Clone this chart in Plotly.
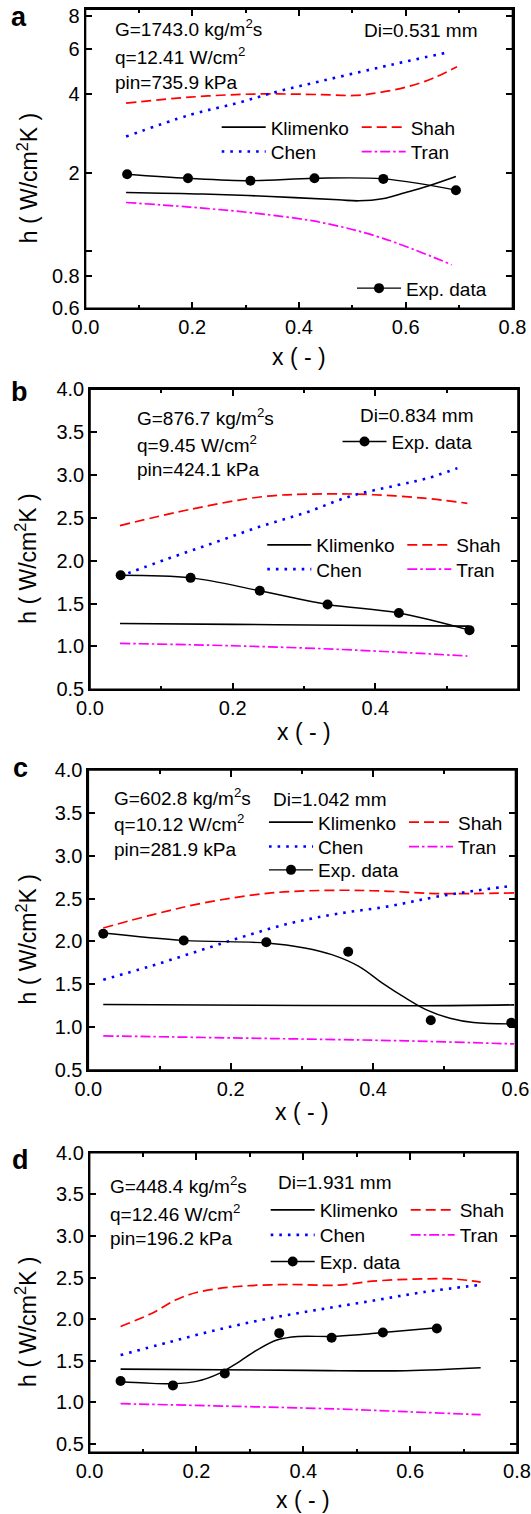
import numpy as np
import plotly.graph_objects as go

FONT = "Liberation Sans, Arial, Helvetica, sans-serif"
W, H = 531, 1514

# ---------------- data ----------------
# panel a  (log y)
a_exp_x = [0.078, 0.192, 0.309, 0.429, 0.558, 0.694]
a_exp_y = [1.97, 1.90, 1.86, 1.90, 1.89, 1.71]
a_kli_x = [0.076, 0.220, 0.347, 0.474, 0.512, 0.556, 0.600, 0.639, 0.694]
a_kli_y = [1.675, 1.652, 1.617, 1.570, 1.556, 1.584, 1.675, 1.766, 1.930]
a_shah_x = [0.076, 0.195, 0.315, 0.442, 0.505, 0.550, 0.600, 0.651, 0.696]
a_shah_y = [3.70, 3.90, 4.01, 3.99, 3.96, 4.06, 4.26, 4.61, 5.11]
a_chen_x = [0.076, 0.195, 0.284, 0.360, 0.442, 0.537, 0.600, 0.680]
a_chen_y = [2.75, 3.33, 3.70, 4.10, 4.50, 5.00, 5.35, 5.81]
a_tran_x = [0.076, 0.195, 0.315, 0.442, 0.556, 0.686]
a_tran_y = [1.533, 1.472, 1.396, 1.284, 1.118, 0.883]

# panel b
b_exp_x = [0.043, 0.141, 0.238, 0.333, 0.433, 0.532]
b_exp_y = [1.83, 1.80, 1.65, 1.49, 1.39, 1.19]
b_kli_x = [0.042, 0.200, 0.350, 0.531]
b_kli_y = [1.268, 1.258, 1.248, 1.237]
b_shah_x = [0.042, 0.141, 0.245, 0.330, 0.397, 0.468, 0.529]
b_shah_y = [2.41, 2.60, 2.75, 2.78, 2.77, 2.73, 2.67]
b_chen_x = [0.042, 0.108, 0.174, 0.239, 0.302, 0.364, 0.430, 0.472, 0.515]
b_chen_y = [1.82, 2.02, 2.21, 2.40, 2.56, 2.75, 2.88, 2.96, 3.08]
b_tran_x = [0.042, 0.141, 0.245, 0.349, 0.444, 0.529]
b_tran_y = [1.035, 1.020, 0.997, 0.966, 0.927, 0.888]

# panel c
c_exp_x = [0.021, 0.134, 0.250, 0.365, 0.481, 0.594]
c_exp_y = [2.09, 2.01, 1.99, 1.88, 1.08, 1.05]
c_fit_x = [0.021, 0.134, 0.250, 0.304, 0.342, 0.380, 0.413, 0.446, 0.475, 0.508, 0.541, 0.598]
c_fit_y = [2.098, 2.012, 1.981, 1.923, 1.845, 1.708, 1.514, 1.338, 1.202, 1.104, 1.054, 1.038]
c_kli_x = [0.021, 0.304, 0.470, 0.598]
c_kli_y = [1.264, 1.253, 1.249, 1.260]
c_shah_x = [0.021, 0.091, 0.162, 0.257, 0.351, 0.422, 0.493, 0.598]
c_shah_y = [2.157, 2.313, 2.449, 2.566, 2.597, 2.585, 2.558, 2.566]
c_chen_x = [0.021, 0.086, 0.153, 0.219, 0.285, 0.351, 0.422, 0.493, 0.579, 0.593]
c_chen_y = [1.553, 1.708, 1.884, 2.059, 2.215, 2.324, 2.410, 2.527, 2.632, 2.644]
c_tran_x = [0.021, 0.257, 0.446, 0.598]
c_tran_y = [0.898, 0.867, 0.840, 0.804]

# panel d
d_exp_x = [0.058, 0.156, 0.253, 0.355, 0.453, 0.549, 0.650]
d_exp_y = [1.256, 1.204, 1.348, 1.832, 1.776, 1.840, 1.888]
d_fit_x = [0.058, 0.105, 0.156, 0.200, 0.244, 0.276, 0.314, 0.352, 0.390, 0.453, 0.504, 0.549, 0.650]
d_fit_y = [1.248, 1.232, 1.224, 1.252, 1.352, 1.472, 1.632, 1.752, 1.792, 1.792, 1.812, 1.840, 1.896]
d_kli_x = [0.058, 0.402, 0.592, 0.732]
d_kli_y = [1.400, 1.384, 1.380, 1.416]
d_shah_x = [0.058, 0.117, 0.162, 0.200, 0.276, 0.371, 0.466, 0.529, 0.624, 0.687, 0.732]
d_shah_y = [1.912, 2.072, 2.232, 2.320, 2.392, 2.416, 2.408, 2.456, 2.484, 2.480, 2.444]
d_chen_x = [0.058, 0.149, 0.244, 0.339, 0.434, 0.529, 0.624, 0.732]
d_chen_y = [1.568, 1.724, 1.880, 2.012, 2.120, 2.220, 2.324, 2.412]
d_tran_x = [0.058, 0.276, 0.466, 0.592, 0.732]
d_tran_y = [0.984, 0.952, 0.920, 0.888, 0.852]

# condition labels
panel_letters = ["a", "b", "c", "d"]
G_text = ["G=1743.0 kg/m<sup>2</sup>s", "G=876.7 kg/m<sup>2</sup>s",
          "G=602.8 kg/m<sup>2</sup>s", "G=448.4 kg/m<sup>2</sup>s"]
q_text = ["q=12.41 W/cm<sup>2</sup>", "q=9.45 W/cm<sup>2</sup>",
          "q=10.12 W/cm<sup>2</sup>", "q=12.46 W/cm<sup>2</sup>"]
p_text = ["pin=735.9 kPa", "pin=424.1 kPa", "pin=281.9 kPa", "pin=196.2 kPa"]
D_text = ["Di=0.531 mm", "Di=0.834 mm", "Di=1.042 mm", "Di=1.931 mm"]
x_titles = "x ( - )"
y_titles = "h ( W/cm<sup>2</sup>K )"
log_tickvals = [0.6, 0.8, 1, 2, 4, 6, 8]
log_ticktext = ["0.6", "0.8", "", "2", "4", "6", "8"]

# ---------------- layout geometry (pixels) ----------------
frames = [  # x0, x1, ytop, ybottom
    (85.5, 512.5, 9.3, 308.3),
    (90.0, 518.0, 389.3, 689.3),
    (88.3, 515.5, 770.0, 1070.0),
    (89.6, 517.0, 1152.7, 1452.3),
]
xranges = [[0, 0.8], [0, 0.6], [0, 0.6], [0, 0.8]]
yranges = [[np.log10(0.6), np.log10(8.5)], [0.5, 4.0], [0.5, 4.0], [0.4, 4.0]]
text_pos = [  # G-x, G-y, q-y, p-y, D-x, D-y
    (113.4, 28.3, 56.0, 82.7, 362.0, 30.0),
    (135.4, 416.7, 444.0, 470.0, 358.0, 415.0),
    (111.7, 796.7, 822.7, 849.3, 270.7, 799.3),
    (108.3, 1185.0, 1212.7, 1238.3, 275.8, 1182.7),
]
legend_pos = [  # row1 line start x, row1 y, row2 y, exp line start x, exp y
    (221.7, 127.3, 151.7, 357.0, 288.3),
    (267.3, 545.0, 569.3, 342.5, 441.7),
    (269.0, 822.3, 846.7, 269.0, 870.0),
    (270.7, 1210.0, 1235.0, 270.7, 1261.7),
]
letter_pos = [(19, 17), (19, 391.7), (20, 768), (20, 1160)]
xtitle_y = [356.7, 731.7, 1111.7, 1500.0]
ytitle_x = [28, 26, 26, 26]
ytitle_shift = 19.5


def X(p):
    return p / W


def Y(p):
    return 1 - p / H


KLI = dict(color="black", width=1.6)
SHAH = dict(color="#ff0000", width=1.7, dash="10px,5px")
CHEN = dict(color="#0000ff", width=2.6, dash="2.6px,6px")
TRAN = dict(color="#ff00ff", width=1.7, dash="10px,3px,2.5px,3px")
EXPL = dict(color="black", width=1.4)
EXPM = dict(color="black", size=10)

fig = go.Figure()

panels = [
    dict(exp=(a_exp_x, a_exp_y), fit=None, kli=(a_kli_x, a_kli_y), shah=(a_shah_x, a_shah_y),
         chen=(a_chen_x, a_chen_y), tran=(a_tran_x, a_tran_y)),
    dict(exp=(b_exp_x, b_exp_y), fit=None, kli=(b_kli_x, b_kli_y), shah=(b_shah_x, b_shah_y),
         chen=(b_chen_x, b_chen_y), tran=(b_tran_x, b_tran_y)),
    dict(exp=(c_exp_x, c_exp_y), fit=(c_fit_x, c_fit_y), kli=(c_kli_x, c_kli_y), shah=(c_shah_x, c_shah_y),
         chen=(c_chen_x, c_chen_y), tran=(c_tran_x, c_tran_y)),
    dict(exp=(d_exp_x, d_exp_y), fit=(d_fit_x, d_fit_y), kli=(d_kli_x, d_kli_y), shah=(d_shah_x, d_shah_y),
         chen=(d_chen_x, d_chen_y), tran=(d_tran_x, d_tran_y)),
]

annotations = []
shapes = []
layout_extra = {}
for i, p in enumerate(panels):
    n = i + 1
    xa = "x" if n == 1 else f"x{n}"
    ya = "y" if n == 1 else f"y{n}"
    lg1 = "legend" if n == 1 else f"legend{3 * i + 1}"
    lg2 = f"legend{3 * i + 2}"
    lg3 = f"legend{3 * i + 3}"

    common = dict(xaxis=xa, yaxis=ya)
    fig.add_trace(go.Scatter(x=p["kli"][0], y=p["kli"][1], mode="lines", name="Klimenko",
                             line=dict(shape="spline", **KLI), legend=lg1, **common))
    fig.add_trace(go.Scatter(x=p["shah"][0], y=p["shah"][1], mode="lines", name="Shah",
                             line=dict(shape="spline", **SHAH), legend=lg1, **common))
    fig.add_trace(go.Scatter(x=p["chen"][0], y=p["chen"][1], mode="lines", name="Chen",
                             line=dict(shape="spline", **CHEN), legend=lg2, **common))
    fig.add_trace(go.Scatter(x=p["tran"][0], y=p["tran"][1], mode="lines", name="Tran",
                             line=dict(shape="spline", **TRAN), legend=lg2, **common))
    if p["fit"] is None:
        fig.add_trace(go.Scatter(x=p["exp"][0], y=p["exp"][1], mode="lines+markers", name="Exp. data",
                                 line=dict(shape="spline", **EXPL), marker=EXPM, legend=lg3, **common))
    else:
        fig.add_trace(go.Scatter(x=p["fit"][0], y=p["fit"][1], mode="lines", showlegend=False,
                                 line=dict(shape="spline", **EXPL), hoverinfo="skip", **common))
        fig.add_trace(go.Scatter(x=p["exp"][0], y=p["exp"][1], mode="markers", showlegend=False,
                                 marker=EXPM, **common))
        fig.add_trace(go.Scatter(x=[None], y=[None], mode="lines+markers", name="Exp. data",
                                 line=EXPL, marker=EXPM, legend=lg3, **common))

    x0, x1, yt, yb = frames[i]
    axis_common = dict(showline=True, linecolor="black", linewidth=1.6, mirror="allticks",
                       ticks="inside", ticklen=7, tickwidth=1.5, tickcolor="black",
                       showgrid=False, zeroline=False, automargin=False,
                       tickfont=dict(family=FONT, size=20, color="black"))
    xminor = dict(dtick=0.1, tick0=0, ticks="inside", ticklen=4, tickwidth=1.5, tickcolor="black")
    xkey = "xaxis" if n == 1 else f"xaxis{n}"
    ykey = "yaxis" if n == 1 else f"yaxis{n}"
    xspec = dict(domain=[X(x0), X(x1)], range=xranges[i], tick0=0, dtick=0.2, tickformat=".1f",
                 minor=xminor)
    if i == 0:
        yspec = dict(domain=[Y(yb), Y(yt)], type="log", range=yranges[i],
                     tickvals=log_tickvals, ticktext=log_ticktext)
    else:
        yspec = dict(domain=[Y(yb), Y(yt)], range=yranges[i], tick0=0, dtick=0.5, tickformat=".1f")
    layout_extra[xkey] = dict(anchor=ya, **xspec, **axis_common)
    layout_extra[ykey] = dict(anchor=xa, **yspec, **axis_common)

    # overlay axes that carry the top / right ticks of the closed frame
    ox = f"xaxis{4 + n}"
    oy = f"yaxis{4 + n}"
    ov_common = dict(showline=True, linecolor="black", linewidth=1.6, ticks="inside", ticklen=7,
                     tickwidth=1.5, tickcolor="black", showgrid=False, zeroline=False,
                     showticklabels=False, automargin=False)
    layout_extra[ox] = dict(overlaying=xa, side="top", anchor=ya, **xspec, **ov_common)
    layout_extra[oy] = dict(overlaying=ya, side="right", anchor=xa, **yspec, **ov_common)

    # frame
    shapes.append(dict(type="rect", xref=f"{xa} domain", yref=f"{ya} domain", x0=0, x1=1, y0=0, y1=1,
                       line=dict(color="black", width=1.6), fillcolor="rgba(0,0,0,0)", layer="above"))

    # legends
    l1x, l1y, l2y, lex, ley = legend_pos[i]
    leg_common = dict(orientation="h", xanchor="left", yanchor="middle", itemwidth=44,
                      entrywidth=81, entrywidthmode="pixels", bgcolor="rgba(0,0,0,0)",
                      borderwidth=0, font=dict(family=FONT, size=19, color="black"),
                      tracegroupgap=0, itemclick=False)
    layout_extra[lg1] = dict(x=X(l1x - 5), y=Y(l1y), **leg_common)
    layout_extra[lg2] = dict(x=X(l1x - 5), y=Y(l2y), **leg_common)
    layout_extra[lg3] = dict(x=X(lex - 5), y=Y(ley), **leg_common)

    # texts
    gx, gy, qy, pyy, dx, dy = text_pos[i]
    tfont = dict(family=FONT, size=19, color="black")
    for txt, tx, ty in [(G_text[i], gx, gy), (q_text[i], gx, qy), (p_text[i], gx, pyy),
                        (D_text[i], dx, dy)]:
        annotations.append(dict(text=txt, x=X(tx), y=Y(ty), xref="paper", yref="paper",
                                xanchor="left", yanchor="middle", showarrow=False, font=tfont))
    lx, ly = letter_pos[i]
    annotations.append(dict(text=f"<b>{panel_letters[i]}</b>", x=X(lx), y=Y(ly), xref="paper",
                            yref="paper", xanchor="center", yanchor="middle", showarrow=False,
                            font=dict(family=FONT, size=27, color="black")))
    # axis titles
    annotations.append(dict(text=x_titles, x=X((x0 + x1) / 2), y=Y(xtitle_y[i]), xref="paper",
                            yref="paper", xanchor="center", yanchor="middle", showarrow=False,
                            font=dict(family=FONT, size=23, color="black")))
    annotations.append(dict(text=y_titles, x=X(ytitle_x[i]), y=Y((yt + yb) / 2 + ytitle_shift),
                            xref="paper", yref="paper", xanchor="center", yanchor="middle",
                            showarrow=False, textangle=-90,
                            font=dict(family=FONT, size=23, color="black")))

fig.update_layout(width=W, height=H, autosize=False,
                  margin=dict(l=0, r=0, t=0, b=0, pad=0, autoexpand=False),
                  paper_bgcolor="white", plot_bgcolor="white",
                  font=dict(family=FONT, color="black"),
                  annotations=annotations, shapes=shapes, **layout_extra)

fig.write_html("out.html")
